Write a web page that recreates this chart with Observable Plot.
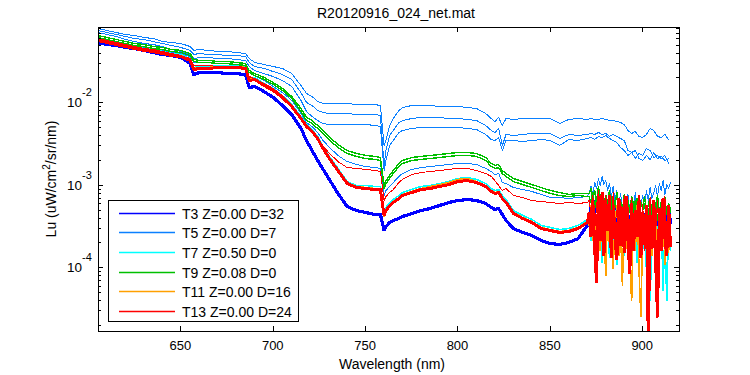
<!DOCTYPE html>
<html><head><meta charset="utf-8">
<script src="https://cdn.jsdelivr.net/npm/d3@7"></script>
<script src="https://cdn.jsdelivr.net/npm/@observablehq/plot@0.6"></script>
<style>
body{margin:0;background:#fff}
#chart{position:relative;width:750px;height:375px;background:#fff}
</style>
</head><body><div id="chart"></div>
<script>
// ---------------- data ----------------
const chartTitle = "R20120916_024_net.mat";
const xLabel = "Wavelength (nm)";
const yLabelParts = ["Lu (uW/cm", "2", "/sr/nm)"];
const xTicks = [650, 700, 750, 800, 850, 900];
const yMajorTicks = [1e-2, 1e-3, 1e-4];
const yTickExponents = ["-2", "-3", "-4"];
const legendLabels = ["T3 Z=0.00 D=32", "T5 Z=0.00 D=7", "T7 Z=0.50 D=0", "T9 Z=0.08 D=0", "T11 Z=0.00 D=16", "T13 Z=0.00 D=24"];
const legendColors = ["#0000ff", "#0a80ff", "#00ffff", "#00c000", "#ffa000", "#ff0000"];

// main wavelength grid (nm)
const wavelength = [605,610,615,620,625,630,635,640,645,650,
655,657,660,665,670,675,680,685,687,690,
695,700,705,710,715,718,721,724,727,730,
735,740,745,750,755,758,760,761,763,765,
768,770,775,780,785,790,795,800,805,810,
815,818,820,822,824,826,830,835,840,845,
850,855,860,865,870];
// noisy tail, 1 nm steps
const tailWavelength = [871,872,873,874,875,876,877,878,879,880,
881,882,883,884,885,886,887,888,889,890,
891,892,893,894,895,896,897,898,899,900,
901,902,903,904,905,906,907,908,909,910,
911,912,913,914,915];
// smoother tail, 2 nm steps
const tailWavelength2 = [872,874,876,878,880,882,884,886,888,890,892,894,896,898,900,902,904,906,908,910,912,914];

// T3 (dark blue)
const t3 = [5.38e-2,5.09e-2,4.95e-2,4.68e-2,4.55e-2,4.31e-2,4.07e-2,3.85e-2,3.74e-2,3.54e-2,
2.99e-2,2.20e-2,2.33e-2,2.33e-2,2.33e-2,2.26e-2,2.26e-2,2.20e-2,1.53e-2,1.58e-2,
1.37e-2,1.16e-2,9.27e-3,7.22e-3,4.88e-3,3.49e-3,2.64e-3,2.00e-3,1.56e-3,1.21e-3,
7.96e-4,5.53e-4,4.95e-4,4.68e-4,4.43e-4,4.43e-4,2.83e-4,3.17e-4,3.54e-4,3.74e-4,
3.96e-4,4.19e-4,4.55e-4,4.95e-4,5.23e-4,5.69e-4,6.19e-4,6.54e-4,6.73e-4,6.54e-4,
6.02e-4,5.38e-4,5.09e-4,5.23e-4,4.43e-4,3.74e-4,2.99e-4,2.68e-4,2.46e-4,2.14e-4,
1.97e-4,1.92e-4,2.03e-4,2.26e-4,3.26e-4];
const t3Tail = [3.96e-4,5.69e-4,3.26e-4,6.54e-4,4.68e-4,7.31e-4,3.54e-4,5.69e-4,2.83e-4,4.95e-4,
3.75e-4,6.54e-4,2.47e-4,4.31e-4,3.26e-4,5.23e-4,2.68e-4,4.68e-4,3.54e-4,5.85e-4,
2.27e-4,4.19e-4,3.17e-4,4.95e-4,2.54e-4,4.43e-4,3.35e-4,5.53e-4,2.40e-4,3.96e-4,
3.00e-4,4.95e-4,2.68e-4,4.31e-4,3.17e-4,5.69e-4,2.27e-4,3.96e-4,3.00e-4,4.68e-4,
2.83e-4,4.19e-4,3.17e-4,5.23e-4,3.54e-4];

// T5 (light blue) – four spectra
const t5a = [7.95e-2,7.52e-2,7.11e-2,6.73e-2,6.54e-2,6.19e-2,6.01e-2,5.53e-2,5.38e-2,5.23e-2,
4.81e-2,4.31e-2,4.43e-2,4.31e-2,4.19e-2,4.19e-2,4.07e-2,3.96e-2,3.44e-2,3.08e-2,
2.91e-2,2.75e-2,2.61e-2,2.26e-2,1.62e-2,1.30e-2,1.19e-2,1.04e-2,9.8e-3,9.8e-3,
9.8e-3,9.8e-3,9.53e-3,9.53e-3,9.53e-3,9.27e-3,3.04e-3,3.49e-3,5.31e-3,6.45e-3,
8.07e-3,8.77e-3,9.27e-3,9.27e-3,9.27e-3,9.02e-3,9.02e-3,9.02e-3,8.77e-3,8.53e-3,
7.42e-3,6.45e-3,5.93e-3,6.64e-3,5.31e-3,6.45e-3,6.28e-3,6.45e-3,6.45e-3,6.45e-3,
6.45e-3,5.61e-3,6.28e-3,6.45e-3,6.28e-3];
const t5aTail = [6.45e-3,6.28e-3,6.28e-3,6.45e-3,6.28e-3,6.10e-3,6.10e-3,5.93e-3,5.77e-3,5.46e-3,
4.62e-3,4.25e-3,4.49e-3,3.91e-3,3.80e-3,4.13e-3,4.88e-3,4.62e-3,3.91e-3,3.80e-3,4.13e-3,3.59e-3];
const t5b = [7.52e-2,7.11e-2,6.73e-2,6.37e-2,6.01e-2,5.85e-2,5.53e-2,5.23e-2,4.95e-2,4.68e-2,
4.31e-2,3.85e-2,3.96e-2,3.85e-2,3.85e-2,3.74e-2,3.74e-2,3.64e-2,3.08e-2,2.75e-2,
2.61e-2,2.39e-2,2.20e-2,1.92e-2,1.33e-2,1.01e-2,9.27e-3,8.07e-3,7.63e-3,7.42e-3,
7.42e-3,7.42e-3,7.22e-3,7.22e-3,7.22e-3,7.02e-3,1.74e-3,2.64e-3,4.02e-3,4.62e-3,
5.77e-3,6.10e-3,6.45e-3,6.64e-3,6.64e-3,6.64e-3,6.45e-3,6.45e-3,6.28e-3,6.10e-3,
5.31e-3,4.62e-3,4.37e-3,4.88e-3,3.04e-3,4.13e-3,4.02e-3,4.13e-3,4.25e-3,4.25e-3,
4.25e-3,3.69e-3,4.13e-3,4.02e-3,4.13e-3];
const t5bTail = [4.25e-3,4.13e-3,4.37e-3,4.13e-3,4.25e-3,3.91e-3,4.13e-3,3.91e-3,3.69e-3,3.49e-3,
2.64e-3,2.50e-3,2.11e-3,2.43e-3,2.30e-3,2.79e-3,2.64e-3,2.17e-3,2.30e-3,2.11e-3,2.30e-3,1.84e-3];
const t5c = [7.11e-2,6.73e-2,6.37e-2,5.85e-2,5.53e-2,5.23e-2,5.09e-2,4.81e-2,4.43e-2,4.19e-2,
3.85e-2,3.44e-2,3.54e-2,3.54e-2,3.44e-2,3.44e-2,3.35e-2,3.26e-2,2.75e-2,2.46e-2,
2.26e-2,2.08e-2,1.86e-2,1.58e-2,1.07e-2,7.85e-3,6.82e-3,6.10e-3,5.61e-3,5.46e-3,
5.46e-3,5.46e-3,5.46e-3,5.46e-3,5.31e-3,5.16e-3,1.51e-3,2.00e-3,3.04e-3,3.49e-3,
4.37e-3,4.62e-3,4.88e-3,5.02e-3,5.02e-3,5.02e-3,5.02e-3,5.02e-3,4.88e-3,4.75e-3,
4.13e-3,3.59e-3,3.49e-3,3.80e-3,2.64e-3,3.49e-3,3.49e-3,3.40e-3,3.49e-3,3.59e-3,
3.49e-3,3.04e-3,3.59e-3,3.49e-3,3.69e-3];
const t5cTail = [3.80e-3,3.59e-3,3.91e-3,3.80e-3,4.02e-3,3.69e-3,3.49e-3,3.30e-3,2.87e-3,2.64e-3,
2.30e-3,2.50e-3,2.64e-3,2.11e-3,2.00e-3,2.30e-3,2.05e-3,2.50e-3,2.11e-3,2.24e-3,2.00e-3,2.11e-3];
const t5d = [6.19e-2,5.85e-2,5.53e-2,5.23e-2,4.95e-2,4.68e-2,4.55e-2,4.31e-2,4.07e-2,3.96e-2,
3.64e-2,3.08e-2,3.08e-2,3.08e-2,2.99e-2,2.99e-2,2.91e-2,2.83e-2,2.33e-2,2.14e-2,
1.86e-2,1.58e-2,1.33e-2,1.07e-2,7.42e-3,5.77e-3,5.16e-3,4.37e-3,3.49e-3,2.95e-3,
2.30e-3,1.94e-3,1.79e-3,1.69e-3,1.64e-3,1.60e-3,7.52e-4,8.65e-4,9.67e-4,1.08e-3,
1.28e-3,1.39e-3,1.56e-3,1.64e-3,1.69e-3,1.74e-3,1.79e-3,1.84e-3,1.84e-3,1.79e-3,
1.60e-3,1.47e-3,1.35e-3,1.39e-3,1.08e-3,1.05e-3,9.40e-4,8.89e-4,8.41e-4,7.74e-4,
7.11e-4,7.11e-4,6.92e-4,7.11e-4,7.31e-4];
const t5dTail = [8.18e-4,9.67e-4,7.52e-4,1.081e-3,9.14e-4,1.209e-3,9.94e-4,1.278e-3,1.022e-3,1.143e-3,
8.65e-4,1.051e-3,7.31e-4,9.67e-4,6.54e-4,8.65e-4,5.85e-4,7.95e-4,5.23e-4,7.31e-4,
6.19e-4,7.73e-4,4.95e-4,6.92e-4,5.53e-4,8.18e-4,4.68e-4,6.54e-4,5.69e-4,7.52e-4,
5.23e-4,8.65e-4,6.54e-4,9.40e-4,6.92e-4,8.18e-4,9.94e-4,7.31e-4,1.051e-3,8.65e-4,
1.143e-3,7.73e-4,1.022e-3,9.14e-4,1.081e-3];

// T7 (cyan)
const t7 = [6.01e-2,5.69e-2,5.38e-2,5.09e-2,4.81e-2,4.55e-2,4.43e-2,4.19e-2,3.96e-2,3.85e-2,
3.44e-2,2.68e-2,2.75e-2,2.75e-2,2.83e-2,2.83e-2,2.83e-2,2.75e-2,1.97e-2,2.03e-2,
1.71e-2,1.49e-2,1.22e-2,9.53e-3,6.82e-3,5.46e-3,4.75e-3,3.91e-3,2.95e-3,2.30e-3,
1.60e-3,1.11e-3,9.95e-4,9.95e-4,9.67e-4,9.67e-4,4.68e-4,5.38e-4,6.19e-4,6.73e-4,
7.52e-4,8.18e-4,8.89e-4,9.67e-4,9.95e-4,1.05e-3,1.11e-3,1.21e-3,1.24e-3,1.18e-3,
1.05e-3,9.14e-4,8.65e-4,8.89e-4,7.52e-4,6.73e-4,4.95e-4,4.31e-4,3.85e-4,3.26e-4,
3.08e-4,2.91e-4,2.99e-4,3.26e-4,3.85e-4];
const t7Tail = [3.75e-4,2.14e-4,5.23e-4,1.41e-4,4.31e-4,1.86e-4,5.69e-4,1.16e-4,3.96e-4,2.27e-4,
6.54e-4,1.30e-4,3.26e-4,1.81e-4,4.95e-4,1.07e-4,3.75e-4,2.14e-4,5.69e-4,1.41e-4,
3.00e-4,4.68e-4,1.23e-4,3.54e-4,2.03e-4,5.38e-4,1.16e-4,2.83e-4,4.31e-4,1.71e-4,
3.26e-4,9.3e-5,4.95e-4,4.0e-5,2.47e-4,3.96e-4,1.30e-4,3.17e-4,1.86e-4,4.68e-4,
5.3e-5,2.83e-4,4.0e-5,3.54e-4,1.62e-4];

// T9 (green) – two spectra
const t9a = [6.54e-2,6.19e-2,5.85e-2,5.53e-2,5.23e-2,5.09e-2,4.81e-2,4.68e-2,4.43e-2,4.31e-2,
3.96e-2,3.35e-2,3.26e-2,3.26e-2,3.17e-2,3.17e-2,3.08e-2,2.99e-2,2.46e-2,2.26e-2,
2.03e-2,1.76e-2,1.49e-2,1.19e-2,8.53e-3,6.64e-3,6.10e-3,5.31e-3,4.62e-3,3.91e-3,
3.13e-3,2.64e-3,2.43e-3,2.30e-3,2.24e-3,2.17e-3,9.95e-4,1.14e-3,1.32e-3,1.51e-3,
1.84e-3,2.00e-3,2.17e-3,2.24e-3,2.30e-3,2.36e-3,2.43e-3,2.50e-3,2.50e-3,2.43e-3,
2.17e-3,1.84e-3,1.74e-3,1.79e-3,1.51e-3,1.39e-3,1.21e-3,1.11e-3,1.02e-3,9.40e-4,
8.65e-4,8.18e-4,7.74e-4,7.96e-4,7.96e-4];
const t9aTail = [7.95e-4,9.14e-4,6.54e-4,8.65e-4,5.69e-4,9.67e-4,6.92e-4,8.18e-4,4.95e-4,7.52e-4,
6.02e-4,8.65e-4,4.68e-4,7.11e-4,5.69e-4,8.18e-4,5.23e-4,6.73e-4,4.31e-4,7.73e-4,
5.53e-4,6.54e-4,4.68e-4,7.31e-4,5.85e-4,4.95e-4,6.92e-4,4.31e-4,6.19e-4,5.23e-4,
7.31e-4,4.68e-4,5.85e-4,6.92e-4,4.43e-4,6.54e-4,5.38e-4,7.52e-4,4.68e-4,6.19e-4,
5.09e-4,7.11e-4,4.43e-4,6.02e-4,5.23e-4];
const t9b = [6.19e-2,5.85e-2,5.53e-2,5.23e-2,4.95e-2,4.81e-2,4.55e-2,4.43e-2,4.19e-2,4.07e-2,
3.74e-2,3.17e-2,3.08e-2,3.08e-2,2.99e-2,2.99e-2,2.91e-2,2.83e-2,2.33e-2,2.14e-2,
1.92e-2,1.67e-2,1.41e-2,1.13e-2,7.85e-3,6.10e-3,5.61e-3,4.88e-3,4.25e-3,3.59e-3,
2.87e-3,2.43e-3,2.24e-3,2.11e-3,2.06e-3,2.00e-3,9.14e-4,1.05e-3,1.21e-3,1.39e-3,
1.69e-3,1.84e-3,2.00e-3,2.06e-3,2.11e-3,2.17e-3,2.24e-3,2.30e-3,2.30e-3,2.24e-3,
2.00e-3,1.69e-3,1.60e-3,1.64e-3,1.39e-3,1.28e-3,1.11e-3,1.02e-3,9.40e-4,8.65e-4,
7.96e-4,7.52e-4,7.31e-4,7.52e-4,7.31e-4];
const t9bTail = [7.31e-4,6.19e-4,8.18e-4,5.23e-4,7.31e-4,4.68e-4,7.73e-4,5.69e-4,6.92e-4,4.31e-4,
6.54e-4,5.23e-4,7.31e-4,3.96e-4,6.19e-4,4.95e-4,6.92e-4,3.75e-4,5.85e-4,4.68e-4,
6.54e-4,4.19e-4,5.69e-4,3.54e-4,5.23e-4,6.54e-4,3.96e-4,5.53e-4,3.35e-4,4.95e-4,
6.02e-4,3.85e-4,5.23e-4,3.26e-4,5.53e-4,4.31e-4,6.19e-4,3.75e-4,5.23e-4,3.17e-4,
5.69e-4,4.19e-4,4.95e-4,3.54e-4,5.38e-4];

// T11 (orange)
const t11 = [5.85e-2,5.53e-2,5.23e-2,4.95e-2,4.68e-2,4.43e-2,4.31e-2,4.07e-2,3.85e-2,3.74e-2,
3.35e-2,2.61e-2,2.68e-2,2.68e-2,2.75e-2,2.75e-2,2.75e-2,2.68e-2,1.92e-2,1.97e-2,
1.67e-2,1.45e-2,1.19e-2,9.27e-3,6.64e-3,5.31e-3,4.62e-3,3.80e-3,2.87e-3,2.24e-3,
1.56e-3,1.08e-3,9.67e-4,9.40e-4,9.14e-4,9.14e-4,4.19e-4,5.09e-4,5.85e-4,6.36e-4,
7.11e-4,7.74e-4,8.41e-4,9.14e-4,9.67e-4,1.02e-3,1.08e-3,1.18e-3,1.21e-3,1.11e-3,
9.95e-4,8.65e-4,8.18e-4,8.41e-4,7.11e-4,6.36e-4,4.68e-4,4.07e-4,3.64e-4,3.08e-4,
2.91e-4,2.75e-4,2.83e-4,3.08e-4,3.64e-4];
const t11Tail = [3.26e-4,5.69e-4,2.14e-4,4.31e-4,1.16e-4,6.54e-4,1.62e-4,3.96e-4,3.00e-4,8.0e-5,
5.69e-4,1.86e-4,4.68e-4,9.8e-5,3.54e-4,5.69e-4,1.41e-4,2.83e-4,6.1e-5,4.95e-4,
1.71e-4,3.75e-4,1.16e-4,4.0e-5,4.31e-4,1.62e-4,5.69e-4,9.3e-5,2.5e-5,3.26e-4,
2.03e-4,5.23e-4,5.3e-5,3.96e-4,1.41e-4,2.83e-4,4.68e-4,7.4e-5,3.75e-4,1.71e-4,
5.53e-4,1.07e-4,3.00e-4,1.53e-4,4.43e-4];

// T13 (red) – thin spectrum and thick (noisy) spectrum
const t13a = [6.01e-2,5.69e-2,5.38e-2,5.09e-2,4.81e-2,4.55e-2,4.43e-2,4.19e-2,3.96e-2,3.74e-2,
3.44e-2,2.83e-2,2.83e-2,2.83e-2,2.75e-2,2.75e-2,2.68e-2,2.61e-2,2.08e-2,1.97e-2,
1.71e-2,1.49e-2,1.22e-2,9.53e-3,6.64e-3,5.16e-3,4.62e-3,3.80e-3,2.95e-3,2.50e-3,
1.94e-3,1.64e-3,1.60e-3,1.56e-3,1.51e-3,1.47e-3,6.54e-4,7.31e-4,8.18e-4,8.89e-4,
1.08e-3,1.18e-3,1.35e-3,1.43e-3,1.47e-3,1.51e-3,1.56e-3,1.60e-3,1.60e-3,1.51e-3,
1.39e-3,1.28e-3,1.14e-3,9.95e-4,8.65e-4,9.14e-4,7.52e-4,7.11e-4,6.54e-4,6.36e-4,
6.19e-4,6.02e-4,6.19e-4,6.02e-4,6.19e-4];
const t13aTail = [6.54e-4,4.31e-4,7.52e-4,2.83e-4,5.69e-4,8.65e-4,3.26e-4,6.54e-4,2.14e-4,7.52e-4,
3.96e-4,5.69e-4,2.47e-4,8.18e-4,3.26e-4,4.95e-4,1.71e-4,6.54e-4,3.54e-4,7.52e-4,
2.27e-4,5.53e-4,3.00e-4,6.92e-4,1.86e-4,4.95e-4,2.83e-4,7.73e-4,2.40e-4,5.85e-4,
1.62e-4,4.43e-4,3.17e-4,7.11e-4,2.14e-4,5.23e-4,2.68e-4,6.54e-4,1.81e-4,4.68e-4,
3.26e-4,7.31e-4,2.27e-4,5.69e-4,3.75e-4];
const t13b = [5.69e-2,5.38e-2,5.09e-2,4.81e-2,4.55e-2,4.31e-2,4.19e-2,3.96e-2,3.74e-2,3.64e-2,
3.26e-2,2.53e-2,2.61e-2,2.61e-2,2.68e-2,2.68e-2,2.68e-2,2.61e-2,1.86e-2,1.92e-2,
1.62e-2,1.41e-2,1.16e-2,9.02e-3,6.45e-3,5.16e-3,4.49e-3,3.69e-3,2.79e-3,2.17e-3,
1.51e-3,1.05e-3,9.40e-4,9.14e-4,8.89e-4,8.89e-4,4.31e-4,4.95e-4,5.69e-4,6.19e-4,
6.92e-4,7.52e-4,8.18e-4,8.89e-4,9.14e-4,9.67e-4,1.02e-3,1.11e-3,1.14e-3,1.08e-3,
9.67e-4,8.41e-4,7.96e-4,8.18e-4,6.92e-4,6.19e-4,4.55e-4,3.96e-4,3.54e-4,2.99e-4,
2.83e-4,2.68e-4,2.75e-4,2.99e-4,3.54e-4];
const t13bTail = [4.68e-4,2.40e-4,6.54e-4,1.71e-4,6.6e-5,7.31e-4,2.14e-4,8.18e-4,1.41e-4,6.54e-4,
2.83e-4,7.52e-4,1.30e-4,5.69e-4,2.27e-4,1.23e-4,6.92e-4,1.86e-4,5.38e-4,1.53e-4,
7.31e-4,2.14e-4,8.5e-5,6.02e-4,1.62e-4,4.95e-4,2.40e-4,6.54e-4,1.30e-4,4.68e-4,
1.92e-4,5.69e-4,1.3e-5,4.31e-4,1.71e-4,6.54e-4,1.16e-4,2.5e-5,5.23e-4,1.62e-4,
6.92e-4,2.27e-4,1.41e-4,5.69e-4,1.86e-4];

// ---------------- layout ----------------
const W = 750, H = 375;
const M = {top: 27, right: 71, bottom: 44, left: 98};
const FONT = "'Liberation Sans', Arial, Helvetica, sans-serif";

const series = [
  {wl: [...wavelength, ...tailWavelength],  vals: [...t3, ...t3Tail],     color: legendColors[0], w: 3.2},
  {wl: [...wavelength, ...tailWavelength2], vals: [...t5a, ...t5aTail],   color: legendColors[1], w: 1},
  {wl: [...wavelength, ...tailWavelength2], vals: [...t5b, ...t5bTail],   color: legendColors[1], w: 1},
  {wl: [...wavelength, ...tailWavelength2], vals: [...t5c, ...t5cTail],   color: legendColors[1], w: 1},
  {wl: [...wavelength, ...tailWavelength],  vals: [...t5d, ...t5dTail],   color: legendColors[1], w: 1},
  {wl: [...wavelength, ...tailWavelength],  vals: [...t7, ...t7Tail],     color: legendColors[2], w: 1.6},
  {wl: [...wavelength, ...tailWavelength],  vals: [...t9a, ...t9aTail],   color: legendColors[3], w: 1.4},
  {wl: [...wavelength, ...tailWavelength],  vals: [...t9b, ...t9bTail],   color: legendColors[3], w: 1.4},
  {wl: [...wavelength, ...tailWavelength],  vals: [...t11, ...t11Tail],   color: legendColors[4], w: 1.6},
  {wl: [...wavelength, ...tailWavelength],  vals: [...t13a, ...t13aTail], color: legendColors[5], w: 1},
  {wl: [...wavelength, ...tailWavelength],  vals: [...t13b, ...t13bTail], color: legendColors[5], w: 3}
];

const lineMarks = series.map(s => Plot.line(
  s.wl.map((w, i) => ({w, v: s.vals[i]})),
  {x: "w", y: "v", stroke: s.color, strokeWidth: s.w, clip: true,
   strokeLinejoin: "miter", strokeMiterlimit: 2, shapeRendering: "crispEdges"}
));

const svg = Plot.plot({
  width: W, height: H,
  marginTop: M.top, marginRight: M.right, marginBottom: M.bottom, marginLeft: M.left,
  x: {domain: [605.4, 919.9], axis: null},
  y: {type: "log", domain: [1.69e-5, 0.0818], axis: null},
  style: {fontFamily: FONT, background: "#fff", overflow: "visible"},
  marks: [...lineMarks, Plot.frame({stroke: "black", strokeWidth: 1})]
});
document.getElementById("chart").appendChild(svg);

// ---------------- axes, labels, legend (drawn with the plot's scales) ----------------
const xs = svg.scale("x"), ys = svg.scale("y");
const X = v => xs.apply(v), Y = v => ys.apply(v);
const L = M.left, R = W - M.right, T = M.top, B = H - M.bottom;
const root = d3.select(svg);
const tg = root.append("g").attr("stroke", "black").attr("stroke-width", 1).attr("shape-rendering", "crispEdges");

for (const t of xTicks) {
  const x = Math.round(X(t)) + 0.5;
  tg.append("line").attr("x1", x).attr("x2", x).attr("y1", B).attr("y2", B - 5);
  tg.append("line").attr("x1", x).attr("x2", x).attr("y1", T).attr("y2", T + 5);
}
const [ylo, yhi] = ys.domain;
for (let e = -6; e <= -1; e++) {
  for (let k = 1; k <= 9; k++) {
    const v = k * Math.pow(10, e);
    if (v < ylo || v > yhi) continue;
    const y = Math.round(Y(v)) + 0.5;
    const len = k === 1 ? 5 : 3;
    tg.append("line").attr("x1", L).attr("x2", L + len).attr("y1", y).attr("y2", y);
    tg.append("line").attr("x1", R).attr("x2", R - len).attr("y1", y).attr("y2", y);
  }
}

const txt = root.append("g").attr("font-family", FONT).attr("fill", "black");
for (const t of xTicks) {
  txt.append("text").attr("x", X(t)).attr("y", B + 19).attr("text-anchor", "middle")
    .attr("font-size", 13).text(String(t));
}
yMajorTicks.forEach((v, i) => {
  const y = Y(v);
  txt.append("text").attr("x", L - 16).attr("y", y + 5).attr("text-anchor", "end")
    .attr("font-size", 13.5).text("10");
  txt.append("text").attr("x", L - 16).attr("y", y - 6).attr("text-anchor", "start")
    .attr("font-size", 11).text(yTickExponents[i]);
});

txt.append("text").attr("x", 396).attr("y", 18).attr("text-anchor", "middle")
  .attr("font-size", 14).text(chartTitle);
txt.append("text").attr("x", 392).attr("y", 369).attr("text-anchor", "middle")
  .attr("font-size", 14).text(xLabel);
const yl = txt.append("text").attr("text-anchor", "middle").attr("font-size", 14)
  .attr("transform", `translate(56,${(T + B) / 2}) rotate(-90)`);
yl.append("tspan").text(yLabelParts[0]);
yl.append("tspan").attr("dy", -6).attr("font-size", 10).text(yLabelParts[1]);
yl.append("tspan").attr("dy", 6).text(yLabelParts[2]);

// legend
const lg = root.append("g").attr("font-family", FONT);
lg.append("rect").attr("x", 108.5).attr("y", 200.5).attr("width", 190).attr("height", 121)
  .attr("fill", "white").attr("stroke", "black").attr("stroke-width", 1).attr("shape-rendering", "crispEdges");
legendLabels.forEach((lab, i) => {
  const cy = Math.round(212.7 + i * 19.6) + 0.5;
  lg.append("line").attr("x1", 119).attr("x2", 175).attr("y1", cy).attr("y2", cy)
    .attr("stroke", legendColors[i]).attr("stroke-width", 1.3);
  lg.append("text").attr("x", 182).attr("y", cy + 5).attr("text-anchor", "start")
    .attr("font-size", 14).attr("fill", "black").text(lab);
});
</script>
</body></html>
